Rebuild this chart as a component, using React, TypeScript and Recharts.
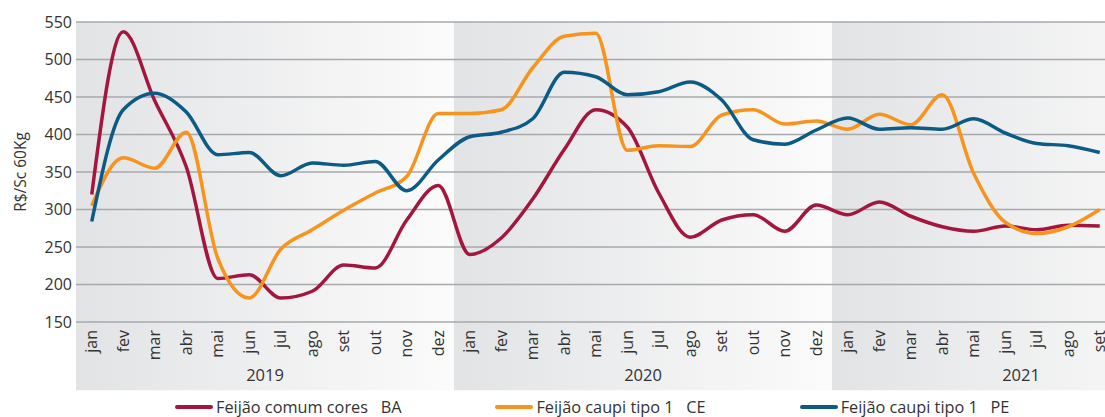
import React from 'react';
import { LineChart, Line, XAxis, YAxis, CartesianGrid, ReferenceArea } from 'recharts';

// month labels, jan/2019 .. set/2021
const monthLabels = [
  'jan', 'fev', 'mar', 'abr', 'mai', 'jun', 'jul', 'ago', 'set', 'out', 'nov', 'dez',
  'jan', 'fev', 'mar', 'abr', 'mai', 'jun', 'jul', 'ago', 'set', 'out', 'nov', 'dez',
  'jan', 'fev', 'mar', 'abr', 'mai', 'jun', 'jul', 'ago', 'set',
];
const years = ['2019', '2020', '2021'];
const monthsPerYear = [12, 12, 12];

// R$/Sc 60Kg
const comumBA = [320, 537, 445, 357, 208, 213, 182, 191, 226, 222, 286, 332, 240, 262, 314, 380, 433, 410, 322, 263, 286, 293, 271, 306, 293, 310, 291, 277, 271, 278, 273, 279, 278];
const caupiCE = [305, 369, 355, 403, 235, 182, 247, 273, 299, 322, 344, 428, 428, 433, 489, 531, 535, 379, 385, 384, 426, 433, 414, 418, 407, 427, 413, 453, 348, 283, 268, 277, 300];
const caupiPE = [284, 433, 455, 430, 373, 376, 345, 362, 359, 364, 325, 366, 397, 403, 421, 483, 477, 453, 457, 470, 446, 393, 387, 406, 422, 407, 409, 407, 421, 402, 388, 385, 376];

const yTicks = [150, 200, 250, 300, 350, 400, 450, 500, 550];

const series = [
  { key: 'ba', name: 'Feijão comum cores   BA', color: '#a3173f' },
  { key: 'ce', name: 'Feijão caupi tipo 1   CE', color: '#f7941d' },
  { key: 'pe', name: 'Feijão caupi tipo 1   PE', color: '#0d5b85' },
];

const data = monthLabels.map((m, i) => ({ i, ba: comumBA[i], ce: caupiCE[i], pe: caupiPE[i] }));

// year bands in category index units
let acc = -0.5;
const bands = years.map((y, k) => {
  const b = { label: y, x1: acc, x2: acc + monthsPerYear[k] };
  acc += monthsPerYear[k];
  return b;
});

const FONT = '"Open Sans", sans-serif';
const TEXT = '#333333';

const MonthTick = (props: any) => {
  const { x, y, payload } = props;
  const yy = y + 8;
  return (
    <text
      x={x}
      y={yy}
      dy={5.5}
      transform={`rotate(-90, ${x}, ${yy})`}
      textAnchor="end"
      fontSize={16}
      fontFamily={FONT}
      fill={TEXT}
    >
      {monthLabels[payload.value]}
    </text>
  );
};

export default function App() {
  return (
    <div style={{ position: 'absolute', left: 0, top: 0, width: 1105, height: 417, overflow: 'hidden', background: '#fff' }}>
      <LineChart width={1120} height={417} data={data} margin={{ top: 22, right: 4.5, left: 0, bottom: 0 }}>
        <defs>
          <linearGradient id="yearBand" x1="0" y1="0" x2="1" y2="0">
            <stop offset="0%" stopColor="#e2e3e5" />
            <stop offset="100%" stopColor="#fbfbfb" />
          </linearGradient>
        </defs>
        {bands.map((b) => (
          <ReferenceArea
            key={b.label}
            x1={b.x1}
            x2={b.x2}
            y1={59}
            y2={550}
            ifOverflow="visible"
            fill="url(#yearBand)"
            fillOpacity={1}
            stroke="none"
            zIndex={-200}
            label={{ value: b.label, position: 'insideBottom', offset: 9, fontSize: 16.5, fontFamily: FONT, fill: TEXT }}
          />
        ))}
        <CartesianGrid vertical={false} stroke="#a7a9ac" strokeWidth={1.5} zIndex={-150} />
        <XAxis
          dataKey="i"
          type="number"
          domain={[-0.5, 32.5]}
          ticks={data.map((d) => d.i)}
          interval={0}
          axisLine={false}
          tickLine={false}
          tickSize={0}
          tickMargin={0}
          height={95}
          tick={<MonthTick />}
        />
        <YAxis
          domain={[150, 550]}
          ticks={yTicks}
          width={76}
          axisLine={false}
          tickLine={false}
          tickSize={0}
          tickMargin={4}
          tick={{ fontSize: 16, fontFamily: FONT, fill: TEXT }}
          label={{ value: 'R$/Sc 60Kg', angle: -90, position: 'insideLeft', offset: 20, fontSize: 15.5, fontFamily: FONT, fill: TEXT, style: { textAnchor: 'middle' } }}
        />
        {series.map((s) => (
          <Line
            key={s.key}
            dataKey={s.key}
            name={s.name}
            type="monotone"
            stroke={s.color}
            strokeWidth={3.5}
            dot={false}
            isAnimationActive={false}
          />
        ))}
      </LineChart>
      <div
        style={{
          position: 'absolute',
          top: 396,
          left: 175,
          display: 'flex',
          gap: 94,
          fontFamily: FONT,
          fontSize: 16.3,
          color: TEXT,
          whiteSpace: 'pre',
          lineHeight: '22px',
        }}
      >
        {series.map((s) => (
          <div key={s.key} style={{ display: 'flex', alignItems: 'center' }}>
            <span style={{ display: 'inline-block', width: 38, height: 4, borderRadius: 2, background: s.color, marginRight: 3 }} />
            <span>{s.name}</span>
          </div>
        ))}
      </div>
    </div>
  );
}
